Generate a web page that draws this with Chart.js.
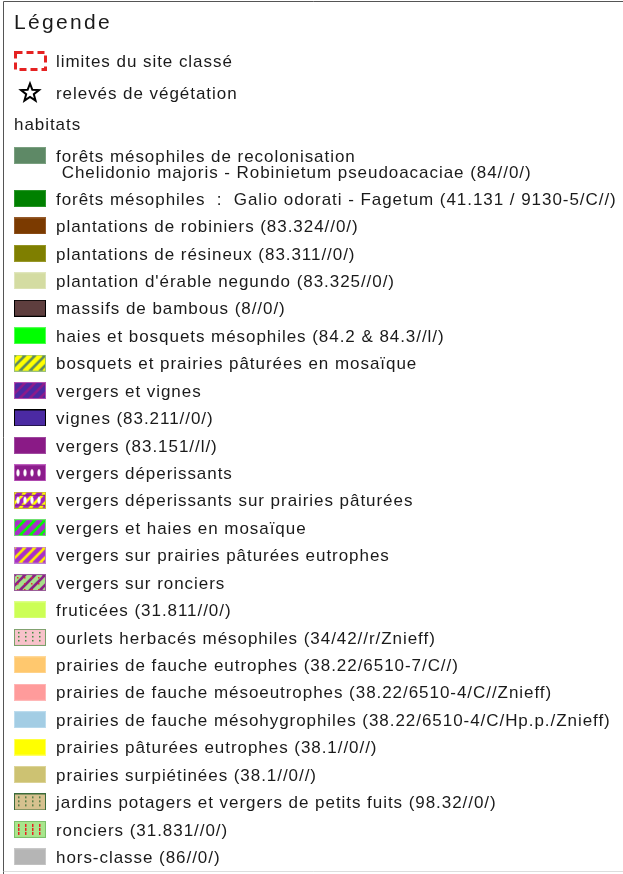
<!DOCTYPE html>
<html lang="fr">
<head>
    <meta charset="UTF-8">
    <title>Légende - habitats</title>
    <script src="https://cdn.jsdelivr.net/npm/chart.js"></script>
    <style>
        html, body {
            margin: 0;
            padding: 0;
            background: #ffffff;
        }

        .chart-box {
            position: relative;
            width: 623px;
            height: 874px;
        }
    </style>
</head>
<body>
    <div class="chart-box">
        <canvas id="legendChart"></canvas>
    </div>

    <script>
        // Categories (habitats), one entry per legend row; extra lines continue the label
        const habitatLabels = [
            ['forêts mésophiles de recolonisation', ' Chelidonio majoris - Robinietum pseudoacaciae (84//0/)'],
            ['forêts mésophiles  :  Galio odorati - Fagetum (41.131 / 9130-5/C//)'],
            ['plantations de robiniers (83.324//0/)'],
            ['plantations de résineux (83.311//0/)'],
            ['plantation d\'érable negundo (83.325//0/)'],
            ['massifs de bambous (8//0/)'],
            ['haies et bosquets mésophiles (84.2 & 84.3//l/)'],
            ['bosquets et prairies pâturées en mosaïque'],
            ['vergers et vignes'],
            ['vignes (83.211//0/)'],
            ['vergers (83.151//l/)'],
            ['vergers déperissants'],
            ['vergers déperissants sur prairies pâturées'],
            ['vergers et haies en mosaïque'],
            ['vergers sur prairies pâturées eutrophes'],
            ['vergers sur ronciers'],
            ['fruticées (31.811//0/)'],
            ['ourlets herbacés mésophiles (34/42//r/Znieff)'],
            ['prairies de fauche eutrophes (38.22/6510-7/C//)'],
            ['prairies de fauche mésoeutrophes (38.22/6510-4/C//Znieff)'],
            ['prairies de fauche mésohygrophiles (38.22/6510-4/C/Hp.p./Znieff)'],
            ['prairies pâturées eutrophes (38.1//0//)'],
            ['prairies surpiétinées (38.1//0//)'],
            ['jardins potagers et vergers de petits fuits (98.32//0/)'],
            ['ronciers (31.831//0/)'],
            ['hors-classe (86//0/)']
        ];

        // Fill kind per habitat: solid, stripes, chain, dots
        const habitatKinds = [
            'solid', 'solid', 'solid', 'solid', 'solid', 'solid', 'solid',
            'stripes', 'stripes', 'solid', 'solid', 'chain', 'stripesChain',
            'stripes', 'stripes', 'stripesDots', 'solid', 'dots', 'solid',
            'solid', 'solid', 'solid', 'solid', 'dots', 'dots', 'solid'
        ];

        // Main fill colour per habitat
        const habitatColors = [
            '#5e8966', '#008000', '#7b3a00', '#7f7f00', '#d4dca2', '#5e3e3e', '#00ff00',
            '#5f8a5e', '#8c1c8c', '#4b2aa3', '#8a1a86', '#8c1c8c', '#ffff00',
            '#00ff00', '#ffee00', '#8b1f86', '#ccff55', '#f8c2ca', '#ffc86e',
            '#ff9b9b', '#a3cde4', '#ffff00', '#cdc272', '#d6c18f', '#a8e68c', '#b5b5b5'
        ];

        // Second colour (stripes / pattern marks)
        const habitatAccents = [
            null, null, null, null, null, null, null,
            '#ffff00', '#4b2aa3', null, null, '#ffffff', '#a020c0',
            '#a830c8', '#a830c8', '#a6e08a', null, '#3f8a3f', null,
            null, null, null, null, '#2f6a2f', '#e82020', null
        ];

        // Outline colour
        const habitatBorders = [
            '#7aa080', '#2a962a', '#955a2a', '#98982a', '#e0e6bc', '#000000', '#55ff55',
            '#9ac07a', '#b050b0', '#000000', '#a04aa0', '#c060c0', '#c9b43a',
            '#70e070', '#c080d0', '#9a5a9a', '#ddff88', '#7aa06a', '#ffd898',
            '#ffb8b8', '#bcdcee', '#ffff66', '#dcd498', '#3a6a3a', '#7ac06a', '#c8c8c8'
        ];

        const SW = 32, SH = 17;

        function makeSwatch(i) {
            const c = document.createElement('canvas');
            c.width = SW;
            c.height = SH;
            const g = c.getContext('2d');
            const kind = habitatKinds[i];
            const main = habitatColors[i];
            const acc = habitatAccents[i];

            g.fillStyle = main;
            g.fillRect(0, 0, SW, SH);

            if (kind === 'stripes' || kind === 'stripesChain' || kind === 'stripesDots') {
                g.save();
                g.beginPath();
                g.rect(0, 0, SW, SH);
                g.clip();
                g.strokeStyle = acc;
                g.lineWidth = 4.5;
                for (let x = -20; x < SW + 20; x += 10) {
                    g.beginPath();
                    g.moveTo(x, SH);
                    g.lineTo(x + SH, 0);
                    g.stroke();
                }
                g.restore();
            }
            if (kind === 'chain' || kind === 'stripesChain') {
                g.fillStyle = '#ffffff';
                for (let x = 4; x < SW; x += 7) {
                    g.beginPath();
                    g.ellipse(x, SH / 2, 1.6, 3.6, 0, 0, Math.PI * 2);
                    g.fill();
                }
                g.fillStyle = kind === 'chain' ? main : '#8c1c8c';
                g.fillRect(0, 3, SW, 1);
                g.fillRect(0, SH - 4, SW, 1);
            }
            if (kind === 'stripesDots') {
                g.fillStyle = '#e03030';
                for (let x = 3; x < SW; x += 7) {
                    for (let y = 3; y < SH; y += 6) {
                        g.fillRect(x, y, 1.5, 1.5);
                    }
                }
            }
            if (kind === 'dots') {
                g.fillStyle = acc;
                const dashH = habitatAccents[i] === '#e82020' ? 3 : 1.5;
                for (let x = 4; x < SW; x += 7) {
                    for (let y = 3; y < SH - 2; y += 4) {
                        g.fillRect(x, y, 1.5, dashH);
                    }
                }
            }

            g.strokeStyle = habitatBorders[i];
            g.lineWidth = 1;
            g.strokeRect(0.5, 0.5, SW - 1, SH - 1);
            return c;
        }

        const swatches = habitatLabels.map((_, i) => makeSwatch(i));

        // row slot for each habitat: one unit per row, extra label lines take a little more room
        const extraLineSlot = 0.568;
        const rowSlots = [];
        let slot = 0;
        habitatLabels.forEach(lines => {
            rowSlots.push(slot);
            slot += 1 + extraLineSlot * (lines.length - 1);
        });

        const rowH = 27.43;
        const firstRowY = 155.5;
        const chartH = 874;
        const chartW = 623;
        const swatchX = 30;

        const BODY_FONT = '17px "Liberation Sans", Arial, sans-serif';

        // Header, frame and row labels
        const legendText = {
            id: 'legendText',
            afterDatasetsDraw(chart) {
                const ctx = chart.ctx;
                const meta = chart.getDatasetMeta(0);
                ctx.save();

                // frame
                ctx.strokeStyle = '#555555';
                ctx.lineWidth = 1;
                ctx.beginPath();
                ctx.moveTo(3.5, chartH);
                ctx.lineTo(3.5, 1.5);
                ctx.lineTo(chartW, 1.5);
                ctx.stroke();
                ctx.strokeStyle = '#dddddd';
                ctx.beginPath();
                ctx.moveTo(3.5, 871.5);
                ctx.lineTo(chartW, 871.5);
                ctx.stroke();

                ctx.fillStyle = '#1a1a1a';
                ctx.textAlign = 'left';
                ctx.textBaseline = 'alphabetic';

                // title
                ctx.font = '21px "Liberation Sans", Arial, sans-serif';
                ctx.letterSpacing = '2.3px';
                ctx.fillText('Légende', 14, 29);

                ctx.font = BODY_FONT;
                ctx.letterSpacing = '0.95px';
                ctx.fillText('limites du site classé', 56, 67);
                ctx.fillText('relevés de végétation', 56, 99);
                ctx.fillText('habitats', 14, 130);

                // dashed site limit
                ctx.strokeStyle = '#e52222';
                ctx.lineWidth = 3;
                ctx.setLineDash([7, 4]);
                ctx.strokeRect(15.5, 52.5, 30, 17);
                ctx.setLineDash([]);

                // star
                ctx.strokeStyle = '#000000';
                ctx.lineWidth = 2;
                ctx.beginPath();
                for (let k = 0; k < 10; k++) {
                    const r = k % 2 === 0 ? 9.5 : 4;
                    const a = -Math.PI / 2 + k * Math.PI / 5;
                    const px = 30 + r * Math.cos(a);
                    const py = 93 + r * Math.sin(a);
                    if (k === 0) ctx.moveTo(px, py); else ctx.lineTo(px, py);
                }
                ctx.closePath();
                ctx.stroke();

                // habitat labels next to each swatch point
                ctx.fillStyle = '#1a1a1a';
                habitatLabels.forEach((lines, i) => {
                    const y = meta.data[i].y;
                    lines.forEach((line, j) => {
                        ctx.fillText(line, 56, y + 6.2 + j * 16.5);
                    });
                });
                ctx.restore();
            }
        };

        new Chart(document.getElementById('legendChart'), {
            type: 'scatter',
            data: {
                datasets: [{
                    data: rowSlots.map(s => ({ x: 0, y: s })),
                    pointStyle: ctx => swatches[ctx.dataIndex],
                    pointRadius: 9,
                    backgroundColor: habitatColors,
                    borderWidth: 0
                }]
            },
            options: {
                responsive: true,
                maintainAspectRatio: false,
                animation: false,
                events: [],
                layout: { padding: 0, autoPadding: false },
                plugins: {
                    legend: { display: false },
                    tooltip: { enabled: false },
                    title: { display: false }
                },
                scales: {
                    x: {
                        type: 'linear',
                        display: false,
                        min: -swatchX,
                        max: chartW - swatchX
                    },
                    y: {
                        type: 'linear',
                        display: false,
                        reverse: true,
                        min: -firstRowY / rowH,
                        max: (chartH - firstRowY) / rowH
                    }
                }
            },
            plugins: [legendText]
        });
    </script>
</body>
</html>
